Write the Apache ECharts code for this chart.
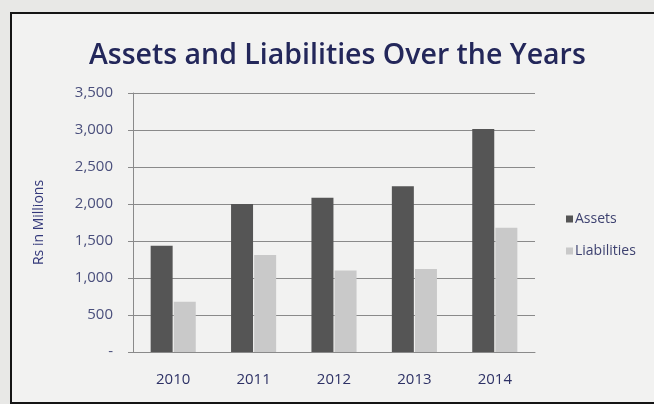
<!DOCTYPE html>
<html>
<head>
<meta charset="utf-8">
<script src="https://cdn.jsdelivr.net/npm/echarts@6/dist/echarts.min.js"></script>
<style>
  html, body { margin: 0; padding: 0; background: #e8e8e6; }
  #chart { width: 654px; height: 404px; }
</style>
</head>
<body>
<div id="chart"></div>
<script>
const years = ['2010', '2011', '2012', '2013', '2014'];
const assets = [1435, 2000, 2085, 2240, 3015];
const liabilities = [680, 1310, 1100, 1120, 1680];
const seriesNames = ['Assets', 'Liabilities'];

const chart = echarts.init(document.getElementById('chart'));
const fontFam = '"Open Sans", "DejaVu Sans", sans-serif';
chart.setOption({
  backgroundColor: 'transparent',
  animation: false,
  graphic: {
    elements: [{
      type: 'rect', z: -100, silent: true,
      shape: { x: 11, y: 13, width: 700, height: 390 },
      style: { fill: '#f2f2f1', stroke: '#151515', lineWidth: 2 }
    }]
  },
  title: {
    text: 'Assets and Liabilities Over the Years',
    left: 84, top: 36,
    textStyle: { fontFamily: fontFam, fontSize: 28.5, fontWeight: 600, color: '#23275a' }
  },
  legend: {
    data: seriesNames,
    orient: 'vertical',
    left: 561, top: 207,
    itemWidth: 7, itemHeight: 7, itemGap: 18,
    icon: 'rect',
    textStyle: { fontFamily: fontFam, fontSize: 14, color: '#3e4270', padding: [0, 0, 0, -3] }
  },
  grid: { left: 133, right: 119, top: 93, bottom: 52, containLabel: false },
  xAxis: {
    type: 'category',
    data: years,
    axisLine: { lineStyle: { color: '#8a8a8a' } },
    axisTick: { show: false },
    axisLabel: { margin: 20, fontFamily: fontFam, fontSize: 15, color: '#2e3266' }
  },
  yAxis: {
    type: 'value',
    min: 0, max: 3500, interval: 500,
    name: 'Rs in Millions',
    nameLocation: 'middle', nameGap: 87, nameRotate: 90,
    nameTextStyle: { fontFamily: fontFam, fontSize: 14, color: '#33387a' },
    axisLine: { show: true, lineStyle: { color: '#8a8a8a' } },
    axisTick: { show: true, length: 5, lineStyle: { color: '#8a8a8a' } },
    splitLine: { lineStyle: { color: '#8a8a8a' } },
    axisLabel: {
      margin: 20, fontFamily: fontFam, fontSize: 15, color: '#4a4f7c',
      formatter: v => v === 0 ? '-' : v.toLocaleString('en-US')
    }
  },
  series: [
    { name: seriesNames[0], type: 'bar', data: assets, barWidth: 22, barGap: '5%',
      itemStyle: { color: '#555555' } },
    { name: seriesNames[1], type: 'bar', data: liabilities, barWidth: 22,
      itemStyle: { color: '#c9c9c9' } }
  ]
});
</script>
</body>
</html>
